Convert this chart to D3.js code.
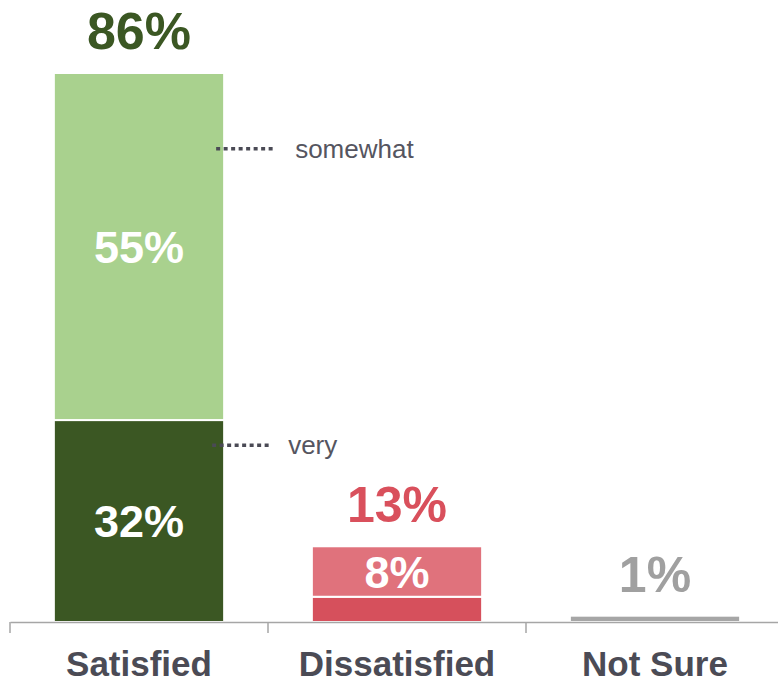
<!DOCTYPE html>
<html>
<head>
<meta charset="utf-8">
<script src="https://cdn.jsdelivr.net/npm/d3@7"></script>
<style>
  body { margin: 0; background: #fff; }
  svg { display: block; font-family: "Liberation Sans", Arial, sans-serif; }
</style>
</head>
<body>
<svg width="778" height="684"></svg>
<script>
// satisfaction survey - stacked bars, "very" at the bottom and "somewhat" on top
const categories = ['Satisfied', 'Dissatisfied', 'Not Sure'];
const veryValues = [32, 4, 1];
const somewhatValues = [55, 8, 0];
const totalLabels = ['86%', '13%', '1%'];
const veryLabels = ['32%', '', ''];
const somewhatLabels = ['55%', '8%', ''];
const noteNames = ['somewhat', 'very'];
const noteValues = [75, 28];   // where the callouts sit on the Satisfied bar

const colors = {
  Satisfied: { very: '#3b5723', somewhat: '#a9d18e', total: '#3b5723', size: 52 },
  Dissatisfied: { very: '#d6505c', somewhat: '#e0727c', total: '#d9505c', size: 50 },
  'Not Sure': { very: '#a6a6a6', somewhat: '#a6a6a6', total: '#a0a0a0', size: 50 }
};

const table = categories.map((c, i) => ({
  category: c, very: veryValues[i], somewhat: somewhatValues[i]
}));
const keys = ['very', 'somewhat'];
const stacked = d3.stack().keys(keys)(table);

const svg = d3.select('svg');
const baseY = 622;
const topY = 73;

const x = d3.scaleBand()
  .domain(categories)
  .range([10, 784])
  .padding(0);
const barW = x.bandwidth() * 0.66;
const barX = d => x(d.data.category) + (x.bandwidth() - barW) / 2;

const y = d3.scaleLinear()
  .domain([0, d3.max(table, d => d.very + d.somewhat)])
  .range([baseY, topY]);

// bars
const layer = svg.selectAll('g.layer')
  .data(stacked)
  .join('g')
  .attr('class', 'layer');

layer.selectAll('rect')
  .data(s => s.map(d => Object.assign(d, { key: s.key })))
  .join('rect')
  .filter(d => d[1] - d[0] > 0)
  .attr('x', barX)
  .attr('width', barW)
  .attr('y', d => y(d[1]))
  .attr('height', d => y(d[0]) - y(d[1]))
  .attr('fill', d => colors[d.data.category][d.key])
  .attr('stroke', '#fff')
  .attr('stroke-width', 2);

// labels inside the segments
const segLabels = { very: veryLabels, somewhat: somewhatLabels };
layer.selectAll('text')
  .data(s => s.map((d, i) => ({ d, txt: segLabels[s.key][i] })).filter(o => o.txt))
  .join('text')
  .attr('x', o => barX(o.d) + barW / 2)
  .attr('y', o => (y(o.d[0]) + y(o.d[1])) / 2)
  .attr('dy', '0.36em')
  .attr('text-anchor', 'middle')
  .attr('fill', '#fff')
  .attr('font-weight', 'bold')
  .attr('font-size', 45)
  .text(o => o.txt);

// totals above
svg.append('g').selectAll('text')
  .data(table)
  .join('text')
  .attr('x', d => x(d.category) + x.bandwidth() / 2)
  .attr('y', d => y(d.very + d.somewhat) - 24)
  .attr('text-anchor', 'middle')
  .attr('fill', d => colors[d.category].total)
  .attr('font-weight', 'bold')
  .attr('font-size', d => colors[d.category].size)
  .text((d, i) => totalLabels[i]);

// callouts on the first bar
const xr = x(categories[0]) + (x.bandwidth() + barW) / 2;
const notes = svg.append('g').selectAll('g')
  .data(noteNames.map((n, i) => ({ name: n, v: noteValues[i] })))
  .join('g');
notes.append('line')
  .attr('x1', (d, i) => xr - (i === 0 ? 8 : 12))
  .attr('x2', (d, i) => xr + (i === 0 ? 51 : 48))
  .attr('y1', d => y(d.v)).attr('y2', d => y(d.v))
  .attr('stroke', '#4a4a55')
  .attr('stroke-width', 3.5)
  .attr('stroke-dasharray', '4,3.5');
notes.append('text')
  .attr('x', (d, i) => xr + (i === 0 ? 71 : 64))
  .attr('y', d => y(d.v))
  .attr('dy', '0.35em')
  .attr('fill', '#555560')
  .attr('font-size', 26)
  .text(d => d.name);

// x axis
const xAxis = d3.axisBottom(x).tickSize(0).tickPadding(0).tickFormat('');
const axG = svg.append('g')
  .attr('transform', `translate(0,${baseY})`)
  .call(xAxis);
axG.select('.domain').attr('stroke', '#a6a6a6').attr('stroke-width', 1.5);
axG.selectAll('.tick').remove();

axG.selectAll('line.sep')
  .data(categories)
  .join('line')
  .attr('class', 'sep')
  .attr('x1', d => x(d)).attr('x2', d => x(d))
  .attr('y1', 0).attr('y2', 11)
  .attr('stroke', '#a6a6a6')
  .attr('stroke-width', 1.5);

axG.selectAll('text.cat')
  .data(categories)
  .join('text')
  .attr('class', 'cat')
  .attr('x', d => x(d) + x.bandwidth() / 2)
  .attr('y', 54)
  .attr('text-anchor', 'middle')
  .attr('fill', '#4b4b55')
  .attr('font-weight', 'bold')
  .attr('font-size', 35)
  .text(d => d);
</script>
</body>
</html>
